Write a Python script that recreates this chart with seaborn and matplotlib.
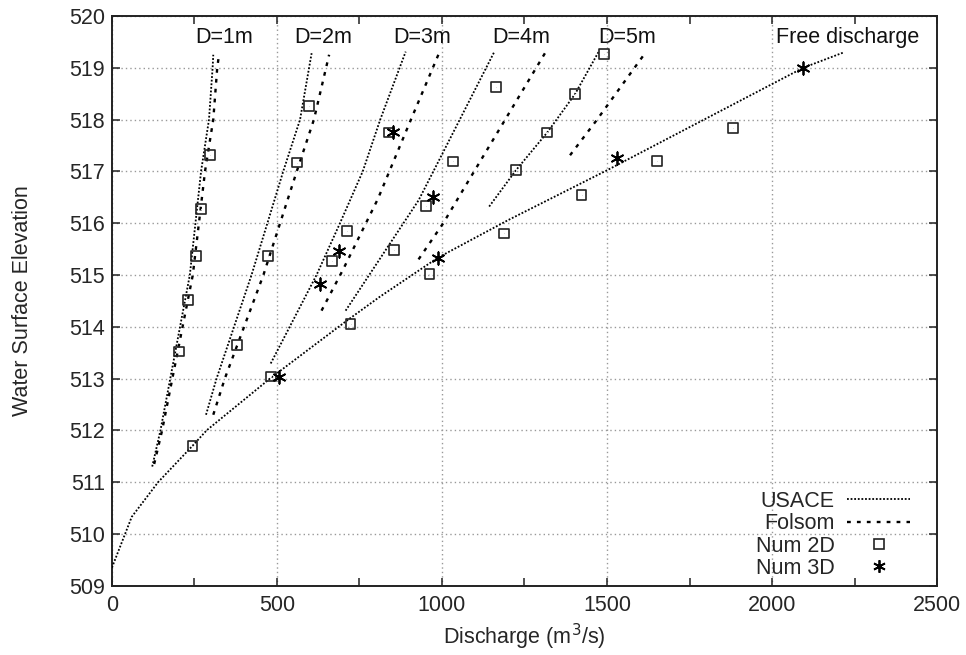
import matplotlib
matplotlib.use("Agg")
import matplotlib.pyplot as plt
import seaborn as sns
import pandas as pd
from matplotlib.lines import Line2D

# ---------------- data ----------------
# USACE free-discharge rating curve
free_q = [0, 60, 140, 244, 287, 479, 708, 812, 987, 1201, 1500, 2095, 2219]
free_h = [509.35, 510.33, 511.0, 511.7, 512.0, 513.0, 514.1, 514.58, 515.33, 516.06, 517.02, 519.0, 519.3]

# USACE curves for gate openings D = 1..5 m
usace_d1_q = [122, 147, 236, 270, 294, 305, 307]
usace_d1_h = [511.3, 512.0, 515.0, 517.0, 518.0, 519.0, 519.25]
usace_d2_q = [285, 317, 423, 519, 570, 605]
usace_d2_h = [512.3, 513.0, 515.0, 517.0, 518.0, 519.28]
usace_d3_q = [481, 620, 691, 760, 813, 890]
usace_d3_h = [513.29, 515.0, 516.0, 517.0, 518.0, 519.31]
usace_d4_q = [708, 929, 974, 1158]
usace_d4_h = [514.31, 516.44, 517.0, 519.30]
usace_d5_q = [1143, 1224, 1319, 1403, 1474]
usace_d5_h = [516.32, 517.02, 517.75, 518.49, 519.30]

# Folsom curves for gate openings D = 1..5 m
folsom_d1_q = [128, 152, 245, 282, 307, 319, 325]
folsom_d1_h = [511.35, 512.0, 515.0, 517.0, 518.0, 519.0, 519.28]
folsom_d2_q = [307, 342, 459, 560, 612, 658]
folsom_d2_h = [512.3, 513.0, 515.0, 517.0, 518.0, 519.25]
folsom_d3_q = [635, 700, 806, 906, 991]
folsom_d3_h = [514.31, 515.1, 516.47, 518.0, 519.28]
folsom_d4_q = [929, 1004, 1060, 1312]
folsom_d4_h = [515.30, 516.0, 516.6, 519.28]
folsom_d5_q = [1388, 1469, 1613]
folsom_d5_h = [517.31, 517.99, 519.26]

# Numerical 2D results
num2d_q = [244, 204, 230, 255, 270, 297, 378, 481, 473, 560, 598, 723, 666, 711,
           855, 840, 962, 951, 1034, 1164, 1188, 1224, 1319, 1403, 1491, 1423, 1652, 1883]
num2d_h = [511.70, 513.52, 514.51, 515.36, 516.27, 517.31, 513.65, 513.04, 515.36, 517.17,
           518.26, 514.05, 515.27, 515.85, 515.48, 517.75, 515.01, 516.33, 517.19, 518.63,
           515.80, 517.02, 517.75, 518.49, 519.26, 516.54, 517.20, 517.84]

# Numerical 3D results
num3d_q = [507, 630, 689, 852, 974, 987, 1529, 2095]
num3d_h = [513.03, 514.82, 515.47, 517.76, 516.51, 515.33, 517.25, 519.0]

# curve labels
label_texts = ["D=1m", "D=2m", "D=3m", "D=4m", "D=5m", "Free discharge"]
label_q = [253, 552, 852, 1152, 1472, 2012]
label_h = [519.58, 519.58, 519.58, 519.58, 519.58, 519.58]

x_ticks = [0, 500, 1000, 1500, 2000, 2500]
y_ticks = [509, 510, 511, 512, 513, 514, 515, 516, 517, 518, 519, 520]

# ---------------- styling ----------------
sns.set_style("ticks")
plt.rcParams['font.family'] = ['Liberation Sans', 'DejaVu Sans']
FS = 15.5

fig = plt.figure(figsize=(9.66, 6.55), dpi=100)
ax = fig.add_axes([0.1159, 0.1058, 0.8541, 0.8699])

usace_style = dict(color="black", linewidth=1.3, linestyle=(0, (1, 1)))
folsom_style = dict(color="black", linewidth=1.7, linestyle=(0, (1.6, 2.6)))

usace_sets = [(free_q, free_h), (usace_d1_q, usace_d1_h), (usace_d2_q, usace_d2_h),
              (usace_d3_q, usace_d3_h), (usace_d4_q, usace_d4_h), (usace_d5_q, usace_d5_h)]
folsom_sets = [(folsom_d1_q, folsom_d1_h), (folsom_d2_q, folsom_d2_h), (folsom_d3_q, folsom_d3_h),
               (folsom_d4_q, folsom_d4_h), (folsom_d5_q, folsom_d5_h)]

for q, h in usace_sets:
    sns.lineplot(x=q, y=h, ax=ax, sort=False, estimator=None, zorder=3, **usace_style)
for q, h in folsom_sets:
    sns.lineplot(x=q, y=h, ax=ax, sort=False, estimator=None, zorder=3, **folsom_style)

df2 = pd.DataFrame({"q": num2d_q, "h": num2d_h})
df3 = pd.DataFrame({"q": num3d_q, "h": num3d_h})
sns.scatterplot(data=df2, x="q", y="h", ax=ax, marker="s", s=50, facecolor="none",
                edgecolor="#222222", linewidth=1.2, zorder=4)
sns.scatterplot(data=df2, x="q", y="h", ax=ax, marker=".", s=2, color="#555555",
                linewidth=0, zorder=4)
sns.scatterplot(data=df3, x="q", y="h", ax=ax, marker=(6, 2, 0), s=80, color="black",
                edgecolor="black", linewidth=1.3, zorder=5)

for t, q, h in zip(label_texts, label_q, label_h):
    ax.text(q, h, t, fontsize=FS, ha="left", va="center", color="#111111", zorder=6)

ax.set_xlim(0, 2500)
ax.set_ylim(509, 520)
ax.set_xticks(x_ticks)
ax.set_xticks([250, 750, 1250, 1750, 2250], minor=True)
ax.set_yticks(y_ticks)
ax.set_xticklabels([str(v) for v in x_ticks], fontsize=FS)
ax.set_yticklabels([str(v) for v in y_ticks], fontsize=FS)
ax.tick_params(which="both", direction="in", top=True, right=True, length=6,
               width=1.1, color="#222222")
ax.tick_params(axis="x", pad=7)
ax.tick_params(axis="y", pad=5)

ax.grid(True, which="major", color="#999999", linestyle=(0, (1, 2.2)), linewidth=1.0, zorder=0)
ax.set_axisbelow(True)
for s in ax.spines.values():
    s.set_visible(True)
    s.set_linewidth(1.4)
    s.set_color("#222222")

ax.set_xlabel("Discharge (m$^3$/s)", fontsize=FS, labelpad=4)
ax.set_ylabel("Water Surface Elevation", fontsize=FS, labelpad=26)

handles = [Line2D([], [], **usace_style),
           Line2D([], [], **folsom_style),
           Line2D([], [], marker="s", markersize=7, markerfacecolor="none",
                  markeredgecolor="#222222", markeredgewidth=1.2, linestyle="none"),
           Line2D([], [], marker=(6, 2, 0), markersize=9, color="black",
                  markeredgewidth=1.3, linestyle="none")]
ax.legend(handles, ["USACE", "Folsom", "Num 2D", "Num 3D"], loc="lower right",
          bbox_to_anchor=(0.967, 0.012), frameon=False, markerfirst=False,
          fontsize=FS, handlelength=2.9, handletextpad=0.6, labelspacing=0.06,
          borderpad=0, borderaxespad=0)

fig.savefig("out.png", dpi=100)
